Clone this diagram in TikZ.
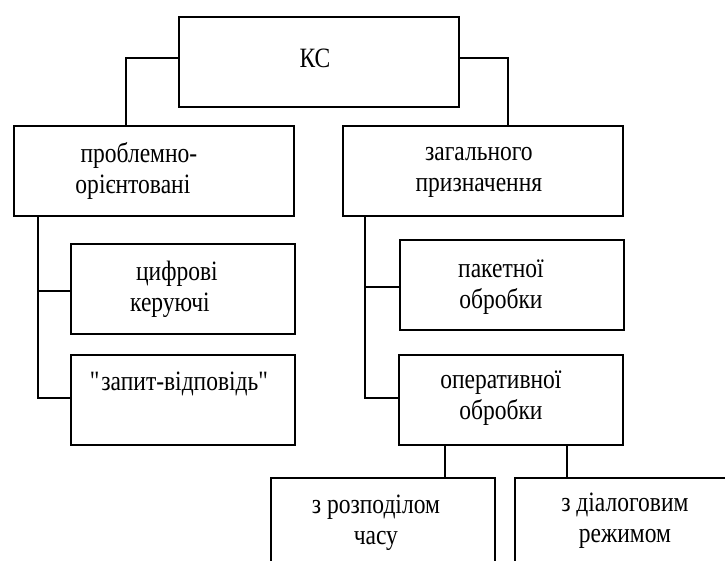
\documentclass[tikz,border=0pt]{standalone}
\usepackage{fontspec}
\setmainfont[FakeStretch=0.84]{Liberation Serif}
\begin{document}
\begin{tikzpicture}[x=1pt,y=-1pt,
  box/.style={draw=black, line width=1.8pt, rectangle, anchor=north west,
    inner sep=0pt, minimum height=90pt},
  wide/.style={box, minimum width=280pt},
  narrow/.style={box, minimum width=224pt},
  txt/.style={align=center, inner sep=0pt, font=\fontsize{28}{31}\selectfont},
  link/.style={draw=black, line width=1.8pt}]
  \clip (0,0) rectangle (725,560);

  % classification boxes
  \node[wide]   (ks) at (178,16)  {};
  \node[wide]   (pr) at (13,125)  {};
  \node[wide]   (gp) at (342,125) {};
  \node[narrow] (cf) at (70,243)  {};
  \node[narrow] (zq) at (70,354)  {};
  \node[narrow] (pk) at (399,239) {};
  \node[narrow] (op) at (398,354) {};
  \node[narrow] (rz) at (270,477) {};
  \node[narrow] (dr) at (514,477) {};

  % box captions
  \node[txt] (ks-t) at ([xshift=-4pt,yshift=4pt]ks.center) {КС};
  \node[txt] (pr-t) at ([xshift=-21pt]pr.center) {\hspace*{12pt}проблемно-\\орієнтовані};
  \node[txt] (gp-t) at ([xshift=-4pt,yshift=-1pt]gp.center) {загального\\призначення};
  \node[txt] (cf-t) at ([xshift=-13pt]cf.center) {\hspace*{14pt}цифрові\\керуючі};
  \node[txt] (zq-t) at ([xshift=-3pt,yshift=16pt]zq.center) {\textquotedbl запит-відповідь\textquotedbl};
  \node[txt] (pk-t) at ([xshift=-11pt,yshift=-2pt]pk.center) {пакетної\\обробки};
  \node[txt] (op-t) at ([xshift=-10pt,yshift=2pt]op.center) {оперативної\\обробки};
  \node[txt] (rz-t) at ([xshift=-7pt]rz.center) {з розподілом\\часу};
  \node[txt] (dr-t) at ([xshift=-2pt,yshift=2pt]dr.center) {з діалоговим\\режимом};

  % top level links
  \draw[link] ([yshift=4pt]ks.west) -| ([xshift=-28pt]pr.north);
  \draw[link] ([yshift=4pt]ks.east) -| ([xshift=25pt]gp.north);

  % left trunk
  \coordinate (lt) at ([xshift=-116pt]pr.south);
  \draw[link] (lt) |- ([yshift=2pt]zq.west);
  \draw[link] ([yshift=-2pt]cf.west) -- ([yshift=-2pt]cf.west -| lt);

  % right trunk
  \coordinate (rt) at ([xshift=-118pt]gp.south);
  \draw[link] (rt) |- ([yshift=2pt]op.west);
  \draw[link] ([yshift=-2pt]pk.west) -- ([yshift=-2pt]pk.west -| rt);

  % branches below the interactive box
  \coordinate (o1) at ([xshift=-66pt]op.south);
  \coordinate (o2) at ([xshift=56pt]op.south);
  \draw[link] (o1) -- (o1 |- rz.north);
  \draw[link] (o2) -- (o2 |- dr.north);
\end{tikzpicture}
\end{document}
